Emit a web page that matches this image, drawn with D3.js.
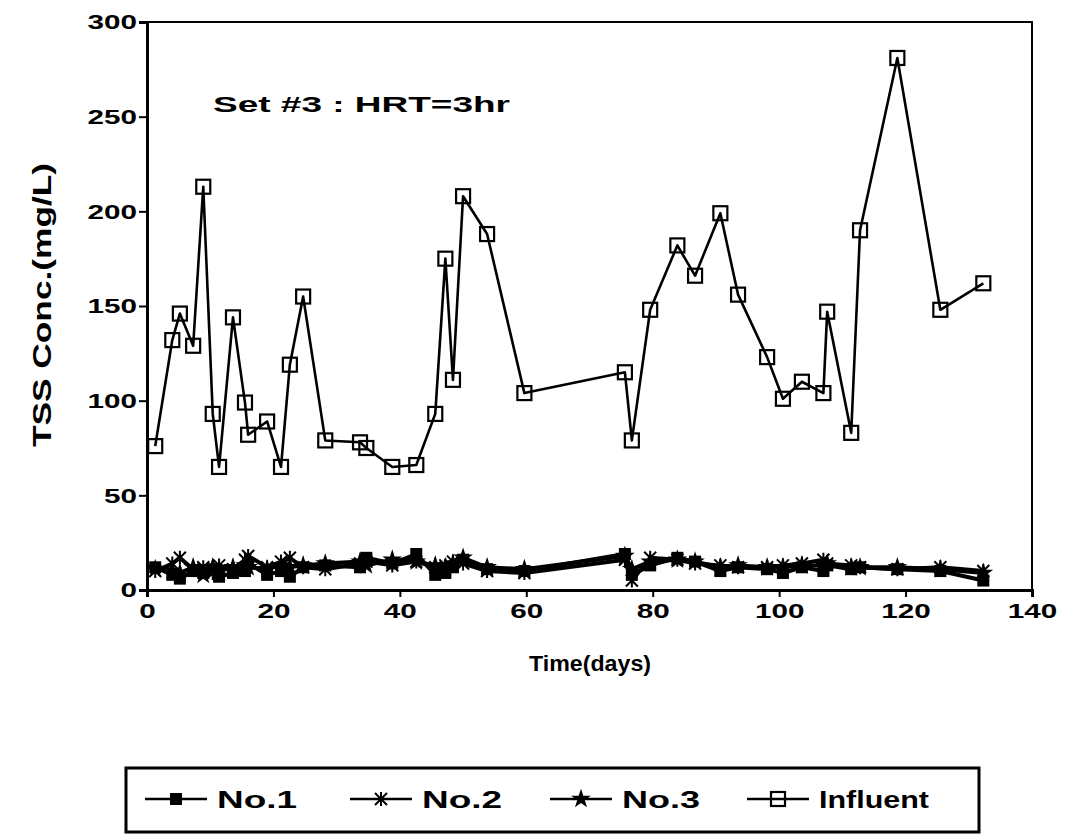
<!DOCTYPE html>
<html>
<head>
<meta charset="utf-8">
<script src="https://cdn.jsdelivr.net/npm/d3@7"></script>
<style>
  body { margin: 0; background: #fff; }
  svg { font-family: "Liberation Sans", Arial, sans-serif; font-weight: bold; }
</style>
</head>
<body>
<svg id="chart" width="1073" height="835"></svg>
<script>
// sampling days
const days = [1.3, 4, 5.2, 7.3, 8.9, 10.4, 11.4, 13.6, 15.5, 16, 19, 21.2, 22.6, 24.7, 28.2, 33.7, 34.7, 38.8, 42.6, 45.6, 47.2, 48.4, 50, 53.8, 59.7, 75.6, 76.7, 79.6, 83.9, 86.7, 90.7, 93.5, 98.1, 100.6, 103.6, 107, 107.6, 111.4, 112.8, 118.7, 125.5, 132.3];
const influent = [76, 132, 146, 129, 213, 93, 65, 144, 99, 82, 89, 65, 119, 155, 79, 78, 75, 65, 66, 93, 175, 111, 208, 188, 104, 115, 79, 148, 182, 166, 199, 156, 123, 101, 110, 104, 147, 83, 190, 281, 148, 162];
const no1 = [12, 8, 6, 10, 9, 11, 7, 9, 10, 14, 8, 10, 7, 12, 13, 12, 17, 14, 19, 8, 9, 12, 16, 11, 10, 19, 8, 13, 17, 15, 10, 12, 11, 9, 12, 10, 13, 11, 12, 11, 10, 5];
const no2 = [10, 14, 17, 11, 12, 9, 13, 11, 16, 18, 12, 15, 17, 12, 11, 14, 15, 13, 15, 12, 13, 15, 14, 10, 9, 16, 5, 17, 16, 14, 13, 12, 12, 13, 14, 16, 14, 13, 12, 11, 12, 10];
const no3 = [11, 10, 9, 12, 8, 12, 10, 12, 13, 12, 11, 13, 12, 13, 14, 15, 13, 16, 15, 13, 12, 14, 17, 12, 11, 18, 11, 15, 16, 15, 12, 13, 12, 12, 13, 13, 14, 12, 12, 12, 11, 9];

const xTicks = [0, 20, 40, 60, 80, 100, 120, 140];
const yTicks = [0, 50, 100, 150, 200, 250, 300];

const series = [
  { name: "No.1", values: no1, marker: "fsquare" },
  { name: "No.2", values: no2, marker: "cross" },
  { name: "No.3", values: no3, marker: "star" },
  { name: "Influent", values: influent, marker: "osquare" }
];

const svg = d3.select("#chart");
const plotL = 147, plotR = 1032, plotT = 22, plotB = 590;

const x = d3.scaleLinear().domain([0, 140]).range([plotL, plotR]);
const y = d3.scaleLinear().domain([0, 300]).range([plotB, plotT]);

// frame
svg.append("rect")
  .attr("x", plotL).attr("y", plotT)
  .attr("width", plotR - plotL).attr("height", plotB - plotT)
  .attr("fill", "none").attr("stroke", "#000").attr("stroke-width", 2);

// axes
const yAxis = svg.append("g")
  .attr("transform", `translate(${plotL},0)`)
  .call(d3.axisLeft(y).tickValues(yTicks).tickSize(8).tickPadding(2));
const xAxis = svg.append("g")
  .attr("transform", `translate(0,${plotB})`)
  .call(d3.axisBottom(x).tickValues(xTicks).tickSize(7).tickPadding(6));

[yAxis, xAxis].forEach(a => {
  a.select(".domain").attr("stroke", "#000").attr("stroke-width", 3);
  a.selectAll(".tick line").attr("stroke", "#000").attr("stroke-width", 2);
  a.selectAll(".tick text")
    .attr("fill", "#000")
    .attr("textLength", d => String(d).length * 16.5)
    .attr("lengthAdjust", "spacingAndGlyphs")
    .style("font-size", "21px")
    .style("font-weight", "bold")
    .style("font-family", "Liberation Sans, Arial, sans-serif");
});

// titles
svg.append("text")
  .attr("x", 590).attr("y", 671)
  .attr("text-anchor", "middle")
  .attr("textLength", 122).attr("lengthAdjust", "spacingAndGlyphs")
  .style("font-size", "22px")
  .text("Time(days)");

svg.append("text")
  .attr("transform", "translate(51,305) rotate(-90)")
  .attr("text-anchor", "middle")
  .attr("textLength", 284).attr("lengthAdjust", "spacingAndGlyphs")
  .style("font-size", "25px")
  .text("TSS Conc.(mg/L)");

svg.append("text")
  .attr("x", 213).attr("y", 112)
  .attr("textLength", 297).attr("lengthAdjust", "spacingAndGlyphs")
  .style("font-size", "22px")
  .text("Set #3 : HRT=3hr");

// marker drawing
function drawMarker(g, type, cx, cy) {
  if (type === "fsquare") {
    g.append("rect").attr("x", cx - 6).attr("y", cy - 6)
      .attr("width", 12).attr("height", 12).attr("fill", "#000");
  } else if (type === "osquare") {
    g.append("rect").attr("x", cx - 7).attr("y", cy - 7)
      .attr("width", 14).attr("height", 14)
      .attr("fill", "none").attr("stroke", "#000").attr("stroke-width", 2.2);
  } else if (type === "cross") {
    g.append("path")
      .attr("d", `M${cx - 6},${cy - 6}L${cx + 6},${cy + 6}M${cx - 6},${cy + 6}L${cx + 6},${cy - 6}M${cx},${cy - 7}L${cx},${cy + 7}`)
      .attr("stroke", "#000").attr("stroke-width", 2);
  } else if (type === "star") {
    g.append("path")
      .attr("transform", `translate(${cx},${cy})`)
      .attr("d", d3.symbol().type(d3.symbolStar).size(120)())
      .attr("fill", "#000");
  }
}

const line = d3.line().x(d => x(d[0])).y(d => y(d[1]));

series.forEach(s => {
  const pts = days.map((d, i) => [d, s.values[i]]);
  const g = svg.append("g").attr("class", "series");
  g.append("path")
    .attr("d", line(pts))
    .attr("fill", "none")
    .attr("stroke", "#000")
    .attr("stroke-width", s.marker === "osquare" ? 2.6 : 4)
    .attr("stroke-linejoin", "round");
  pts.forEach(p => drawMarker(g, s.marker, x(p[0]), y(p[1])));
});

// legend
const legend = svg.append("g");
legend.append("rect")
  .attr("x", 126).attr("y", 768)
  .attr("width", 853).attr("height", 64)
  .attr("fill", "none").attr("stroke", "#000").attr("stroke-width", 3);

const legendX = [145, 350, 550, 747];
const legendTextW = [80, 80, 78, 110];
series.forEach((s, i) => {
  const lx = legendX[i], ly = 799;
  legend.append("line")
    .attr("x1", lx).attr("x2", lx + 62)
    .attr("y1", ly).attr("y2", ly)
    .attr("stroke", "#000").attr("stroke-width", 2.5);
  drawMarker(legend, s.marker, lx + 31, ly);
  legend.append("text")
    .attr("x", lx + 72).attr("y", ly + 9)
    .attr("textLength", legendTextW[i]).attr("lengthAdjust", "spacingAndGlyphs")
    .style("font-size", "23px")
    .text(s.name);
});
</script>
</body>
</html>
